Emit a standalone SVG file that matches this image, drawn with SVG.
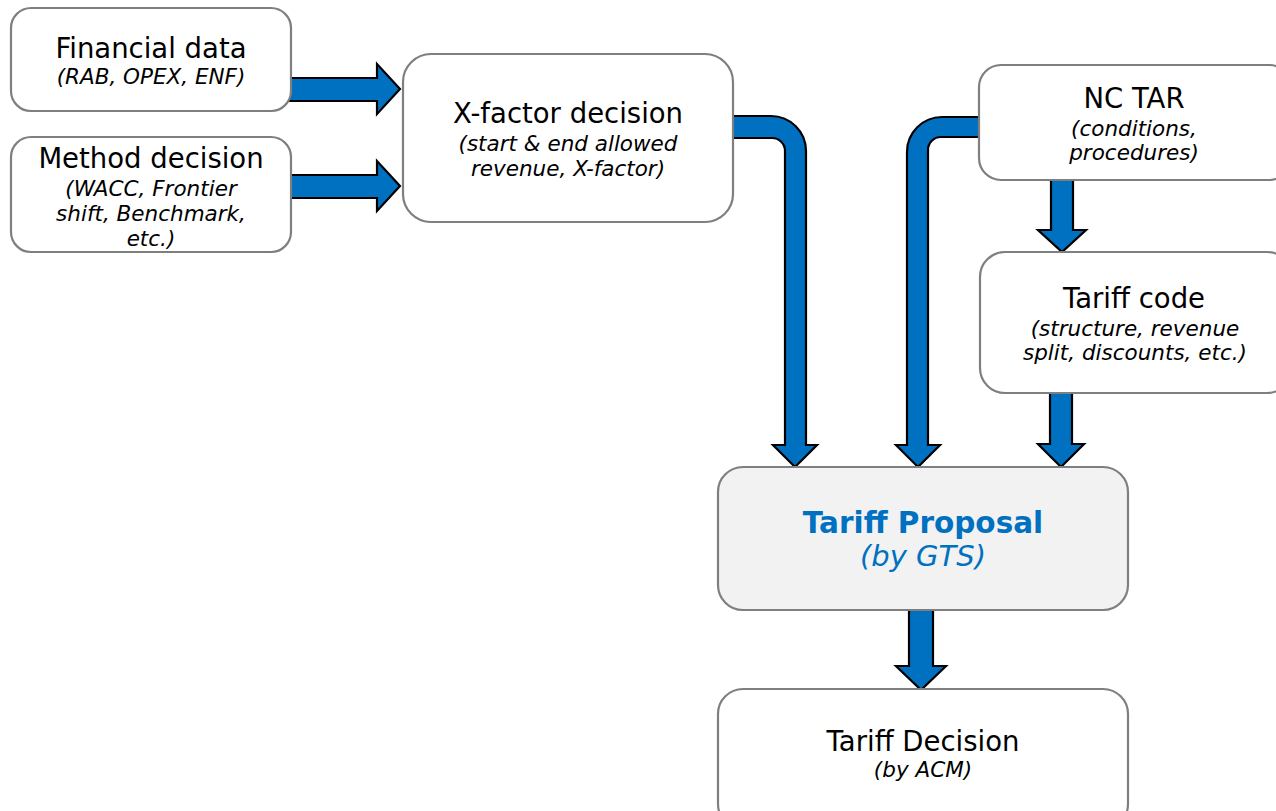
<svg xmlns="http://www.w3.org/2000/svg" width="1276" height="811" viewBox="0 0 1276 811">
<style>
.box{fill:#ffffff;stroke:#7f7f7f;stroke-width:2.2}
.prop{fill:#f2f2f2;stroke:#7f7f7f;stroke-width:2.2}
.arr{fill:#0070c0;stroke:#000000;stroke-width:2.2;stroke-linejoin:miter}
text{font-family:"DejaVu Sans","Liberation Sans",sans-serif;text-anchor:middle;fill:#000000}
.t{font-size:27.5px}
.s{font-size:21.5px;font-style:italic}
.pt{font-size:29.5px;font-weight:bold;fill:#0070c0}
.ps{font-size:29px;font-style:italic;fill:#0070c0}
</style>
<rect width="1276" height="811" fill="#ffffff"/>
<g id="connectors">
<path class="arr" d="M289,78 H377 V64 L400,89 L377,114 V101 H289 Z"/>
<path class="arr" d="M289,175 H377 V161 L400,186 L377,211 V198 H289 Z"/>
<path class="arr" d="M730,116 H771 A35,35 0 0 1 806,151 V445 H817 L795,467 L773,445 H785 V151 A13,13 0 0 0 772,138 H730 Z"/>
<path class="arr" d="M982,117 H942 A35,35 0 0 0 907,152 V445 H896 L918,467 L940,445 H928 V150 A13,13 0 0 1 941,137 H982 Z"/>
<path class="arr" d="M1051,177 V230 H1038 L1062,252 L1086,230 H1073 V177 Z"/>
<path class="arr" d="M1050,390 V444 H1038 L1061,467 L1084,444 H1072 V390 Z"/>
<path class="arr" d="M909,607 V666 H896 L921,690 L946,666 H933 V607 Z"/>
</g>
<g id="financial">
<rect class="box" x="11" y="8" width="280" height="103" rx="20"/>
<text class="t" x="151" y="58">Financial data</text>
<text class="s" x="151" y="84">(RAB, OPEX, ENF)</text>
</g>
<g id="method">
<rect class="box" x="11" y="137" width="280" height="115" rx="20"/>
<text class="t" x="151" y="168">Method decision</text>
<text class="s" x="151" y="196">(WACC, Frontier</text>
<text class="s" x="151" y="221">shift, Benchmark,</text>
<text class="s" x="151" y="246">etc.)</text>
</g>
<g id="xfactor">
<rect class="box" x="403" y="54" width="330" height="168" rx="28"/>
<text class="t" x="568" y="123">X-factor decision</text>
<text class="s" x="568" y="151">(start &amp; end allowed</text>
<text class="s" x="568" y="176">revenue, X-factor)</text>
</g>
<g id="nctar">
<rect class="box" x="979" y="65" width="312" height="115" rx="22"/>
<text class="t" x="1134" y="108">NC TAR</text>
<text class="s" x="1134" y="136">(conditions,</text>
<text class="s" x="1134" y="160">procedures)</text>
</g>
<g id="tariffcode">
<rect class="box" x="980" y="252" width="312" height="141" rx="25"/>
<text class="t" x="1134" y="308">Tariff code</text>
<text class="s" x="1135" y="336">(structure, revenue</text>
<text class="s" x="1135" y="360">split, discounts, etc.)</text>
</g>
<g id="proposal">
<rect class="prop" x="718" y="467" width="410" height="143" rx="25"/>
<text class="pt" x="923" y="533">Tariff Proposal</text>
<text class="ps" x="923" y="566">(by GTS)</text>
</g>
<g id="decision">
<rect class="box" x="718" y="689" width="410" height="140" rx="25"/>
<text class="t" x="923" y="751">Tariff Decision</text>
<text class="s" x="923" y="777">(by ACM)</text>
</g>
</svg>
